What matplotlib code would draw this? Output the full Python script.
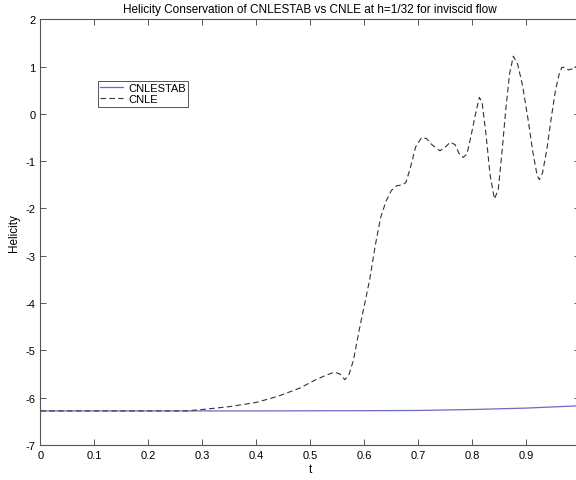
import matplotlib
matplotlib.use("Agg")
import matplotlib.pyplot as plt

plt.rcParams["font.family"] = ["Liberation Sans", "DejaVu Sans"]
plt.rcParams["axes.unicode_minus"] = False

# CNLESTAB helicity (nearly conserved)
t_stab = [0.0, 0.2, 0.4, 0.6, 0.7, 0.8, 0.9, 1.0]
h_stab = [-6.28, -6.28, -6.28, -6.275, -6.27, -6.25, -6.22, -6.17]

# CNLE helicity (blows up)
t_cnle = [0.00, 0.10, 0.20, 0.27, 0.30, 0.35, 0.40, 0.44, 0.48, 0.51,
          0.53, 0.545, 0.555, 0.564, 0.572, 0.580, 0.590, 0.600, 0.610, 0.620,
          0.630, 0.640, 0.650, 0.660, 0.670, 0.677, 0.685, 0.695, 0.706, 0.715,
          0.725, 0.740, 0.750, 0.759, 0.768, 0.776, 0.783, 0.790, 0.797, 0.805,
          0.813, 0.818, 0.825, 0.833, 0.841, 0.848, 0.855, 0.862, 0.869, 0.876,
          0.884, 0.893, 0.903, 0.912, 0.920, 0.924, 0.930, 0.938, 0.946, 0.954,
          0.961, 0.966, 0.972, 0.978, 0.985, 0.992, 1.000]
h_cnle = [-6.28, -6.28, -6.28, -6.28, -6.25, -6.19, -6.10, -5.97, -5.80, -5.62,
          -5.52, -5.46, -5.50, -5.62, -5.50, -5.20, -4.60, -4.05, -3.50, -2.80,
          -2.20, -1.85, -1.62, -1.52, -1.50, -1.45, -1.15, -0.70, -0.50, -0.52,
          -0.65, -0.78, -0.70, -0.60, -0.65, -0.85, -0.92, -0.85, -0.50, -0.05,
          0.35, 0.25, -0.40, -1.30, -1.80, -1.60, -0.80, 0.10, 0.85, 1.22,
          1.05, 0.60, -0.10, -0.80, -1.30, -1.39, -1.25, -0.75, -0.10, 0.50,
          0.85, 0.985, 0.98, 0.93, 0.95, 1.00, 1.05]

xticks = [0, 0.1, 0.2, 0.3, 0.4, 0.5, 0.6, 0.7, 0.8, 0.9, 1]
xlabels = ["0", "0.1", "0.2", "0.3", "0.4", "0.5", "0.6", "0.7", "0.8", "0.9", "1"]
yticks = [-7, -6, -5, -4, -3, -2, -1, 0, 1, 2]

fig = plt.figure(figsize=(5.76, 4.81), dpi=100)
ax = fig.add_axes([0.070, 0.0728, 0.9375, 0.885])

ax.plot(t_stab, h_stab, color="#6a6ac8", lw=0.9, label="CNLESTAB")
ax.plot(t_cnle, h_cnle, color="#333333", lw=0.8, ls=(0, (5, 3)), label="CNLE")

ax.set_xlim(0, 1)
ax.set_ylim(-7, 2)
ax.set_xticks(xticks)
ax.set_xticklabels(xlabels)
ax.set_yticks(yticks)
ax.tick_params(direction="in", length=4, width=0.7, labelsize=8,
               top=True, right=True, colors="#555555", labelcolor="black")
for s in ax.spines.values():
    s.set_color("#555555")
    s.set_linewidth(0.8)

ax.set_title("Helicity Conservation of CNLESTAB vs CNLE at h=1/32 for inviscid flow",
             fontsize=8.5, pad=5)
ax.set_xlabel("t", fontsize=8.5, labelpad=2)
ax.set_ylabel("Helicity", fontsize=8.5, labelpad=4)

leg = ax.legend(loc="upper left", bbox_to_anchor=(0.107, 0.855), fontsize=8,
                fancybox=False, framealpha=1, edgecolor="#555555",
                handlelength=2.0, handletextpad=0.5, borderpad=0.2,
                labelspacing=0.1, borderaxespad=0)
leg.get_frame().set_linewidth(0.7)

fig.savefig("out.png", dpi=100)
